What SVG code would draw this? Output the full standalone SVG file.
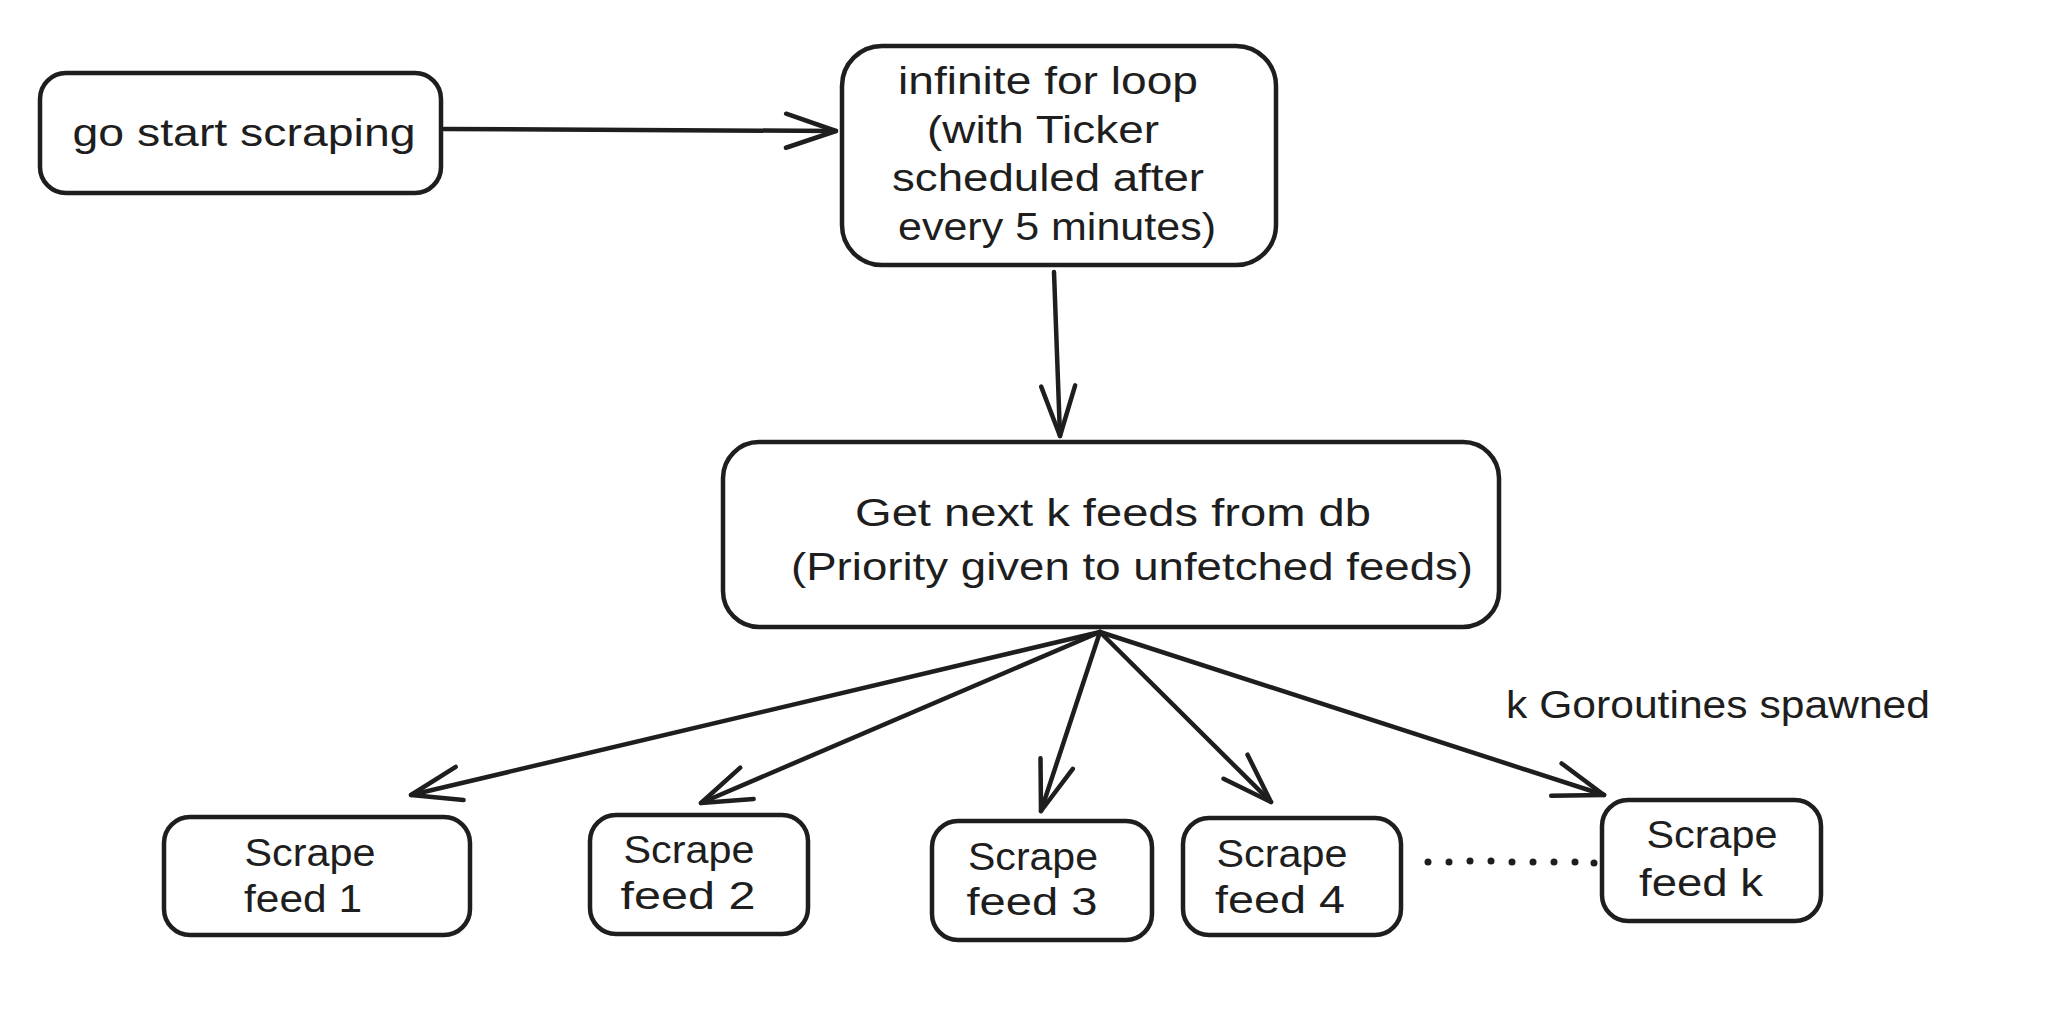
<svg xmlns="http://www.w3.org/2000/svg" width="2048" height="1028" viewBox="0 0 2048 1028">
<style>
.box{fill:#ffffff;stroke:#1e1e1e;stroke-width:4.5;stroke-linejoin:round}
.t{font-family:"Liberation Sans","DejaVu Sans",sans-serif;font-size:38px;fill:#1e1e1e;text-anchor:middle}
.c{fill:none;stroke:#1e1e1e;stroke-width:4.5;stroke-linecap:round}
</style>
<defs>
<marker id="ah" markerUnits="userSpaceOnUse" viewBox="-54 -22 58 44" refX="0" refY="0" markerWidth="58" markerHeight="44" orient="auto">
<path d="M-50,-17 L0,0 L-50,17" fill="none" stroke="#1e1e1e" stroke-width="4.5" stroke-linecap="round" stroke-linejoin="round"/>
</marker>
</defs>
<rect width="2048" height="1028" fill="#ffffff"/>
<g id="connectors">
<path class="c" d="M444,129 L836,131" marker-end="url(#ah)"/>
<path class="c" d="M1054,272 L1060,436" marker-end="url(#ah)"/>
<path class="c" d="M1100,632 L411,795" marker-end="url(#ah)"/>
<path class="c" d="M1100,632 L701,803" marker-end="url(#ah)"/>
<path class="c" d="M1100,632 L1041,811" marker-end="url(#ah)"/>
<path class="c" d="M1100,632 L1271,802" marker-end="url(#ah)"/>
<path class="c" d="M1100,632 L1604,795" marker-end="url(#ah)"/>
</g>
<g id="n-start">
<rect class="box" x="40" y="73" width="401" height="120" rx="26"/>
<text class="t" x="244" y="146" textLength="343" lengthAdjust="spacingAndGlyphs">go start scraping</text>
</g>
<g id="n-loop">
<rect class="box" x="842" y="46" width="434" height="219" rx="40"/>
<text class="t" x="1048" y="94" textLength="300" lengthAdjust="spacingAndGlyphs">infinite for loop</text>
<text class="t" x="1043" y="143" textLength="232" lengthAdjust="spacingAndGlyphs">(with Ticker</text>
<text class="t" x="1048" y="191" textLength="312" lengthAdjust="spacingAndGlyphs">scheduled after</text>
<text class="t" x="1057" y="240" textLength="318" lengthAdjust="spacingAndGlyphs">every 5 minutes)</text>
</g>
<g id="n-get">
<rect class="box" x="723" y="442" width="776" height="185" rx="36"/>
<text class="t" x="1113" y="526" textLength="516" lengthAdjust="spacingAndGlyphs">Get next k feeds from db</text>
<text class="t" x="1132" y="580" textLength="682" lengthAdjust="spacingAndGlyphs">(Priority given to unfetched feeds)</text>
</g>
<g id="n-feed1">
<rect class="box" x="164" y="817" width="306" height="118" rx="26"/>
<text class="t" x="310" y="866" textLength="131" lengthAdjust="spacingAndGlyphs">Scrape</text>
<text class="t" x="303" y="912" textLength="118" lengthAdjust="spacingAndGlyphs">feed 1</text>
</g>
<g id="n-feed2">
<rect class="box" x="590" y="815" width="218" height="119" rx="26"/>
<text class="t" x="689" y="863" textLength="131" lengthAdjust="spacingAndGlyphs">Scrape</text>
<text class="t" x="688" y="909" textLength="135" lengthAdjust="spacingAndGlyphs">feed 2</text>
</g>
<g id="n-feed3">
<rect class="box" x="932" y="821" width="220" height="119" rx="26"/>
<text class="t" x="1033" y="870" textLength="130" lengthAdjust="spacingAndGlyphs">Scrape</text>
<text class="t" x="1032" y="915" textLength="131" lengthAdjust="spacingAndGlyphs">feed 3</text>
</g>
<g id="n-feed4">
<rect class="box" x="1183" y="818" width="218" height="117" rx="26"/>
<text class="t" x="1282" y="867" textLength="131" lengthAdjust="spacingAndGlyphs">Scrape</text>
<text class="t" x="1280" y="913" textLength="130" lengthAdjust="spacingAndGlyphs">feed 4</text>
</g>
<g id="n-feedk">
<rect class="box" x="1602" y="800" width="219" height="121" rx="26"/>
<text class="t" x="1712" y="848" textLength="131" lengthAdjust="spacingAndGlyphs">Scrape</text>
<text class="t" x="1701" y="896" textLength="124" lengthAdjust="spacingAndGlyphs">feed k</text>
</g>
<g id="dots" fill="#1e1e1e">
<circle cx="1428" cy="862" r="3.5"/>
<circle cx="1449" cy="862" r="3.5"/>
<circle cx="1470" cy="861" r="3.5"/>
<circle cx="1491" cy="861" r="3.5"/>
<circle cx="1512" cy="862" r="3.5"/>
<circle cx="1533" cy="862" r="3.5"/>
<circle cx="1554" cy="862" r="3.5"/>
<circle cx="1575" cy="862" r="3.5"/>
<circle cx="1594" cy="863" r="3.5"/>
</g>
<g id="label">
<text class="t" x="1718" y="718" textLength="424" lengthAdjust="spacingAndGlyphs">k Goroutines spawned</text>
</g>
</svg>
